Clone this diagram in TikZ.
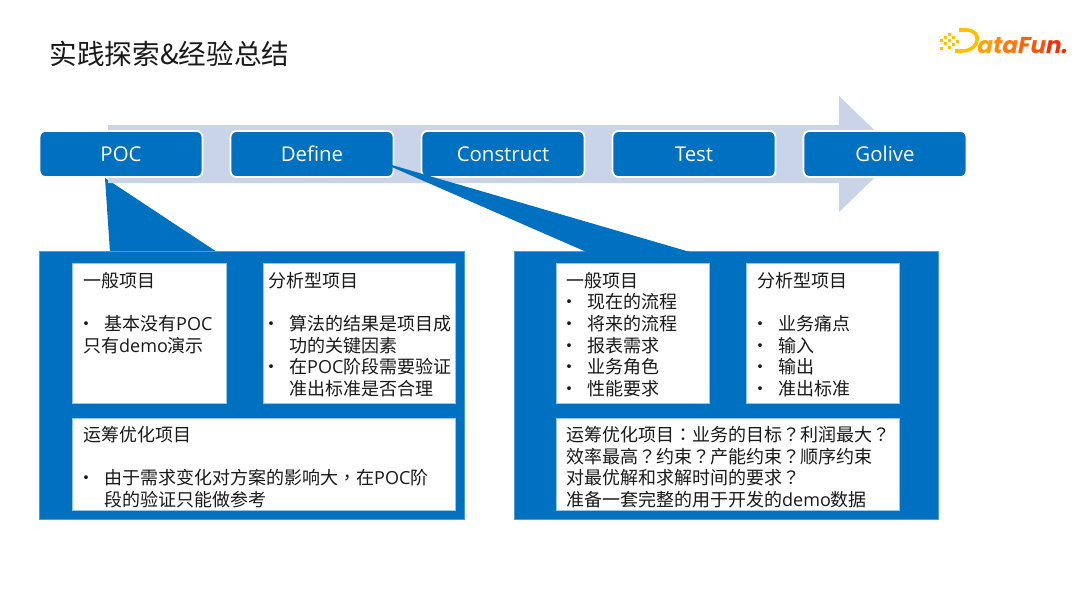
\documentclass[tikz,border=0pt]{standalone}
\usepackage{fontspec}
\setmainfont{Noto Sans CJK SC}
\newfontfamily\latinfont{Open Sans}
\newfontfamily\punctfont{Noto Sans CJK TC}
\newfontfamily\logofont[FakeSlant=0.2]{Poppins}
\usepackage{xcolor}
\definecolor{Col1}{RGB}{0,112,192}
\definecolor{Col2}{RGB}{201,212,232}
\definecolor{Col3}{RGB}{255,192,0}
\definecolor{Col4}{RGB}{255,122,10}
\definecolor{Col5}{RGB}{240,50,10}
\newcommand{\Lat}[1]{{\latinfont #1}}
\newcommand{\Pun}[1]{{\punctfont #1}}
\newcommand{\Bul}[1]{\makebox[21pt][l]{\hspace*{-5.5pt}•}#1}
\newcommand{\Hang}[1]{\hspace*{21pt}#1}
\tikzstyle{Band}=[fill=Col2,draw=none]
\tikzstyle{Panel}=[fill=Col1,draw=Col1!70,thin]
\tikzstyle{Wedge}=[fill=Col1,draw=none]
\tikzstyle{Step}=[rectangle,rounded corners=6pt,fill=Col1,draw=white,line width=1.8pt,
minimum width=163pt,minimum height=46pt,inner sep=0pt,text=white,
font=\fontsize{20.4}{24}\selectfont\latinfont]
\tikzstyle{WBox}=[rectangle,fill=white,draw=Col1!40,line width=.4pt,inner sep=0pt]
\tikzstyle{Txt}=[anchor=north west,inner sep=0pt,align=left,text=black!90,
font=\fontsize{18}{21.6}\selectfont]
\tikzstyle{Dot}=[fill=Col3,draw=none]

\begin{document}
\begin{tikzpicture}[x=1pt,y=-1pt]
        \useasboundingbox(0,0)rectangle(1080,608);
        % title
        \node[anchor=west,inner sep=0pt,text=black!90,font=\fontsize{27.6}{30}\selectfont](title)
            at(49.5,54){实践探索\&经验总结};
        % logo
        \foreach \x/\y in {940/39,944/36,948/33,944/42,948/39,952/36,940/47,948/46,952/43,956/40}
            \fill[Dot](\x,\y)rectangle++(2.6,2.6);
        \draw[Col3,line width=3.6pt](959,30)--(966,30)..controls(983,30)and(980,51)..(962,51)--(955,51);
        \node[anchor=base west,inner sep=0pt,font=\fontsize{23}{24}\selectfont\logofont\bfseries](logo)
            at(976,53){\textcolor{Col3!60!Col4}{a}\textcolor{Col4!80!Col3}{t}\textcolor{Col4}{a}\textcolor{Col4!70!Col5}{F}\textcolor{Col4!50!Col5}{u}\textcolor{Col5}{n}\textcolor{Col5!80!red}{.}};
        % first panel goes under the arrow
        \coordinate(a1)at(105,178);
        \coordinate(a2)at(110,252);
        \coordinate(a3)at(217,252);
        \fill[Wedge](a1)--(a2)--(a3)--cycle;
        \draw[Panel](39.5,251.5)rectangle(464,519);
        % arrow
        \fill[Band](108,125)--(839,125)--(839,96)--(899,154)--(839,212)--(839,183)--(108,183)--cycle;
        \node[Step](poc)at(121,154){POC};
        \node[Step](define)at(312,154){Define};
        \node[Step](construct)at(503,154){Construct};
        \node[Step](test)at(694,154){Test};
        \node[Step](golive)at(885,154){Golive};
        % second panel
        \draw[Panel](514,251.5)rectangle(938,519);
        \coordinate(b1)at(378,161);
        \coordinate(b2)at(586.5,252);
        \coordinate(b3)at(690,252);
        \fill[Wedge](b1)--(b2)--(b3)--cycle;
        % boxes of the first panel
        \node[WBox,minimum width=153.4pt,minimum height=140pt](p1)at(149,333.3){};
        \node[WBox,minimum width=192.3pt,minimum height=140pt](p2)at(358.85,333.3){};
        \node[WBox,minimum width=382.7pt,minimum height=92.3pt](p3)at(263.65,463.85){};
        \node[Txt](p1t)at(83,272){一般项目\\[21.6pt]
            \Bul{基本没有\Lat{POC}}\\
            只有\Lat{demo}演示};
        \node[Txt](p2t)at(268,272){分析型项目\\[21.6pt]
            \Bul{算法的结果是项目成}\\
            \Hang{功的关键因素}\\
            \Bul{在\Lat{POC}阶段需要验证}\\
            \Hang{准出标准是否合理}};
        \node[Txt](p3t)at(83,426){运筹优化项目\\[21.6pt]
            \Bul{由于需求变化对方案的影响大\Pun{，}在\Lat{POC}阶}\\
            \Hang{段的验证只能做参考}};
        % boxes of the second panel
        \node[WBox,minimum width=153pt,minimum height=140pt](q1)at(632.2,333.3){};
        \node[WBox,minimum width=153pt,minimum height=140pt](q2)at(822.5,333.3){};
        \node[WBox,minimum width=343.3pt,minimum height=92.3pt](q3)at(727.35,463.85){};
        \node[Txt](q1t)at(566,272){一般项目\\
            \Bul{现在的流程}\\
            \Bul{将来的流程}\\
            \Bul{报表需求}\\
            \Bul{业务角色}\\
            \Bul{性能要求}};
        \node[Txt](q2t)at(757,272){分析型项目\\[21.6pt]
            \Bul{业务痛点}\\
            \Bul{输入}\\
            \Bul{输出}\\
            \Bul{准出标准}};
        \node[Txt](q3t)at(566,426){运筹优化项目\Pun{：}业务的目标\Pun{？}利润最大\Pun{？}\\
            效率最高\Pun{？}约束\Pun{？}产能约束\Pun{？}顺序约束\\
            对最优解和求解时间的要求\Pun{？}\\
            准备一套完整的用于开发的\Lat{demo}数据};
\end{tikzpicture}
\end{document}
